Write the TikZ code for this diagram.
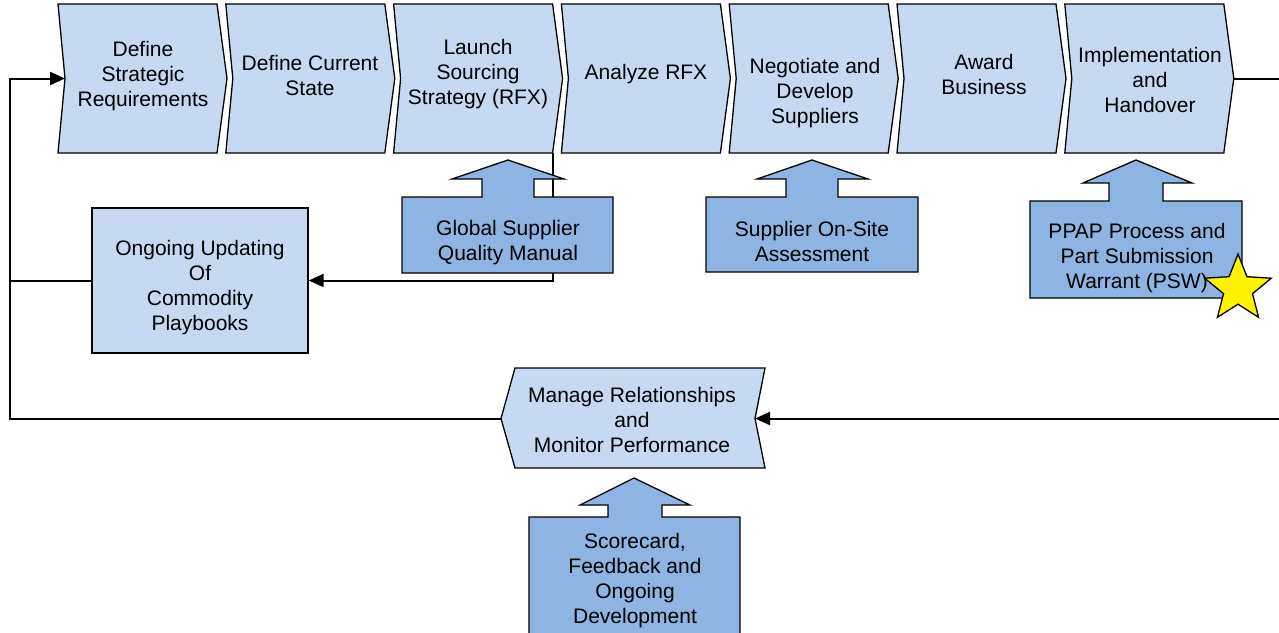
\documentclass[tikz,border=0pt]{standalone}
\usepackage{fontspec}
\setmainfont{Liberation Sans}
\usetikzlibrary{arrows.meta,shapes.geometric}
\definecolor{lightfill}{RGB}{198,217,241}
\definecolor{darkfill}{RGB}{141,180,226}
\begin{document}
\begin{tikzpicture}[x=1pt,y=-1pt,
  chev/.style={draw=black,line width=1.3pt,fill=lightfill,line join=miter},
  blk/.style={draw=black,line width=1.3pt,fill=darkfill,line join=miter},
  lbl/.style={align=center,font=\fontsize{21}{25}\selectfont,inner sep=0pt},
  conn/.style={draw=black,line width=2pt},
  tipend/.style={-{Triangle[length=15pt,width=13pt]}}]
\useasboundingbox (0,0) rectangle (1279,632);
% process chevrons
\foreach \i in {1,...,7}{
  \pgfmathsetmacro\xa{58+167.8*(\i-1)}
  \draw[chev] (\xa,4) -- ++(159,0) -- ++(10,74.5) coordinate (c\i tip)
     -- ++(-10,74.5) coordinate (c\i br) -- (\xa,153)
     -- ++(7,-74.5) coordinate (c\i notch) -- cycle;
}
\node[lbl] (t1) at (143,76) {Define\\Strategic\\Requirements};
\node[lbl] (t2) at (310,75) {Define Current\\State};
\node[lbl] (t3) at (478,74) {Launch\\Sourcing\\Strategy (RFX)};
\node[lbl] (t4) at (646,74) {Analyze RFX};
\node[lbl] (t5) at (815,93.5) {Negotiate and\\Develop\\Suppliers};
\node[lbl] (t6) at (984,74) {Award\\Business};
\node[lbl] (t7) at (1150,80) {Implementation\\and\\Handover};
% manage relationships (reverse chevron)
\draw[chev] (515,368) -- (765,368) -- (755,418.5) coordinate (mnotch) -- (765,468) -- (515,468)
   -- (501,418.5) coordinate (mtip) -- cycle;
\node[lbl] (mt) at (632,420) {Manage Relationships\\and\\Monitor Performance};
% ongoing updating box
\node[draw=black,line width=1.3pt,fill=lightfill,minimum width=216pt,minimum height=145pt,inner sep=0pt] (ong) at (200,280.5) {};
\node[lbl] (ongt) at (200,288) {Ongoing Updating\\Of\\Commodity\\Playbooks};
% connectors
\coordinate (rtop) at (1292,0 |- c7tip);
\coordinate (rbot) at (rtop |- mnotch);
\draw[conn,tipend] (c7tip) -- (rtop) -- (rbot) -- (mnotch);
\coordinate (lbot) at (10,418.5);
\coordinate (ltop) at (lbot |- c1notch);
\draw[conn,tipend] (mtip) -- (lbot) -- (ltop) -- (c1notch);
\coordinate (lmid) at (lbot |- ong.west);
\draw[conn] (lmid) -- (ong.west);
\coordinate (c3down) at (c3br |- ong.east);
\draw[conn,tipend] (c3br) -- (c3down) -- (ong.east);
% block arrows
\draw[blk] (402,197) -- (482,197) -- (482,179) -- (452,179) -- (508,160) coordinate (gtip)
   -- (564,179) -- (534,179) -- (534,197) -- (613,197) -- (613,273) -- (402,273) -- cycle;
\node[lbl] (gt) at (508,243) {Global Supplier\\Quality Manual};
\draw[blk] (706,197) -- (786,197) -- (786,179) -- (757,179) -- (812,160) coordinate (stip)
   -- (868,179) -- (838,179) -- (838,197) -- (918,197) -- (918,272) -- (706,272) -- cycle;
\node[lbl] (st) at (812,241) {Supplier On-Site\\Assessment};
\draw[blk] (1030,201) -- (1109,201) -- (1109,183) -- (1083,183) -- (1136,160) coordinate (ptip)
   -- (1192,183) -- (1163,183) -- (1163,201) -- (1242,201) -- (1242,298) -- (1030,298) -- cycle;
\node[lbl] (pt) at (1137,258) {PPAP Process and\\Part Submission\\Warrant (PSW)};
\draw[blk] (529,517) -- (608,517) -- (608,505) -- (580,505) -- (634,478) coordinate (sctip)
   -- (690,505) -- (662,505) -- (662,517) -- (740,517) -- (740,645) -- (529,645) -- cycle;
\node[lbl] (sct) at (635,581) {Scorecard,\\Feedback and\\Ongoing\\Development};
% star
\node[star,star points=5,star point ratio=2.3,draw=black,line width=1.3pt,fill=yellow,
      minimum size=70pt,inner sep=0pt] (star) at (1238,289) {};
\end{tikzpicture}
\end{document}
